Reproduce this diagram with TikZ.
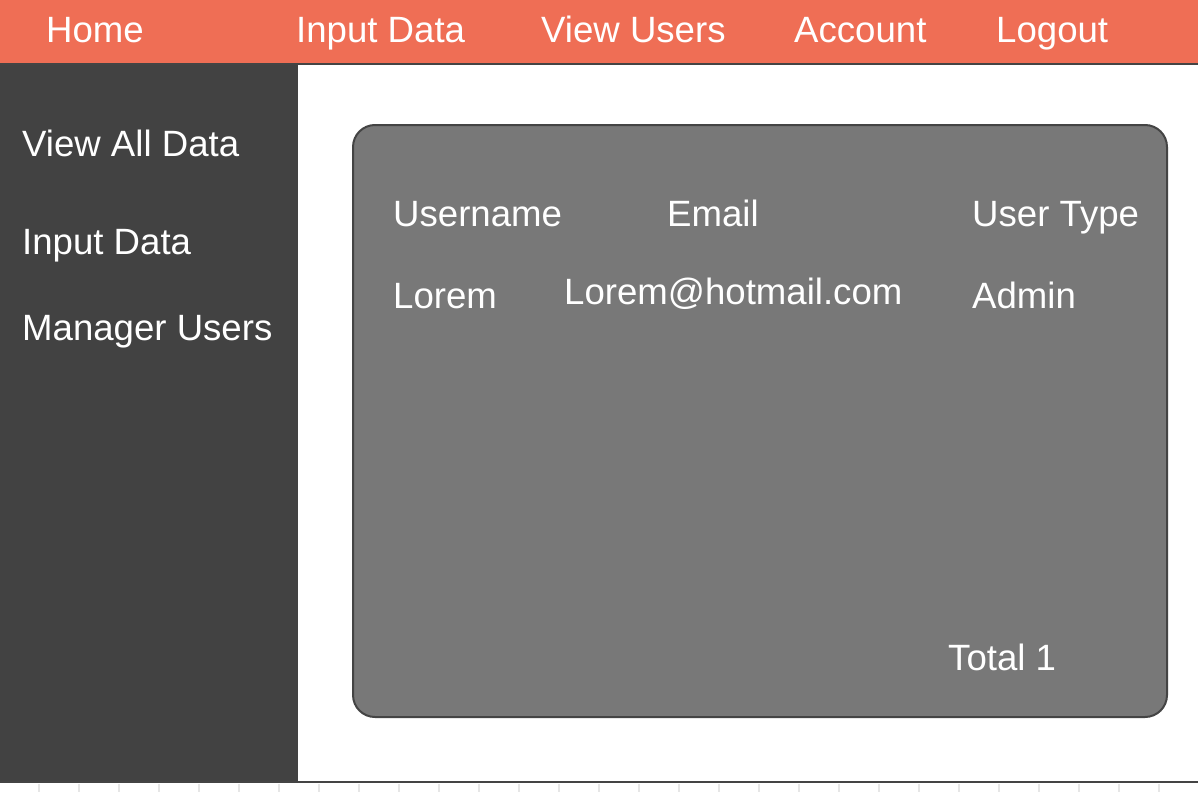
\documentclass[tikz,border=0pt]{standalone}
\usepackage{fontspec}
\setmainfont{Liberation Sans}
\usepackage{xcolor}
\usetikzlibrary{positioning}
\definecolor{topbar}{HTML}{EF6E55}
\definecolor{sidebar}{HTML}{424242}
\definecolor{panel}{HTML}{787878}
\definecolor{panelline}{HTML}{444444}
\definecolor{gridtick}{HTML}{E6E6E6}
\tikzset{
  label/.style={anchor=base west,inner sep=0pt,text=white,font=\fontsize{36.6}{44}\selectfont},
}
\begin{document}
\begin{tikzpicture}[x=1pt,y=-1pt]
\useasboundingbox (0,0) rectangle (1198,792);
  \fill[white] (0,0) rectangle (1198,792);
    \foreach \x in {39,79,...,1199}
      \draw[gridtick,line width=1.5pt] (\x,784) -- (\x,792);
  \fill[topbar] (0,0) rectangle (1198,64);
  \fill[sidebar] (0,64) rectangle (298,782);
  \draw[panelline,line width=2pt] (0,64) -- (1198,64);
  \draw[panelline,line width=2pt] (0,782) -- (1198,782);
  \draw[panelline,fill=panel,line width=2pt,rounded corners=22pt] (353,125) rectangle (1167,717);
      % top menu
      \node[label] (home) at (46,43) {Home};
      \node[label] (input) at (296,43) {Input Data};
      \node[label] (users) at (541,43) {View Users};
      \node[label] (account) at (794,43) {Account};
      \node[label] (logout) at (996,43) {Logout};
      % side menu
      \node[label] (viewall) at (22,156) {View All Data};
      \node[label] (sideinput) at (22,254) {Input Data};
      \node[label] (manager) at (22,340) {Manager Users};
      % table
      \node[label] (username) at (393,226) {Username};
      \node[label] (email) at (667,226) {Email};
      \node[label] (usertype) at (972,226) {User Type};
      \node[label] (lorem) at (393,308) {Lorem};
      \node[label] (mail) at (564,304) {Lorem@hotmail.com};
      \node[label] (admin) at (972,308) {Admin};
      \node[label] (total) at (948,670) {Total 1};
\end{tikzpicture}
\end{document}
